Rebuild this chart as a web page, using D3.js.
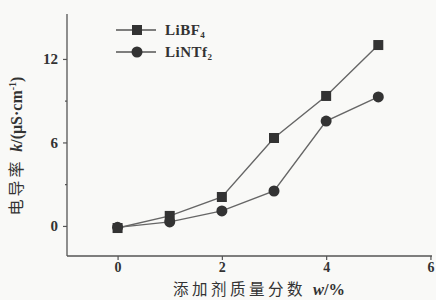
<!DOCTYPE html>
<html><head><meta charset="utf-8">
<script src="https://cdn.jsdelivr.net/npm/d3@7"></script>
<style>
html,body{margin:0;padding:0;background:#f9f9f7;}
svg{display:block;}
</style></head>
<body>
<svg id="chart" width="436" height="300"></svg>
<script>
const xValues = [0, 1, 2, 3, 4, 5];
const seriesNames = ["LiBF₄", "LiNTf₂"];
const libf4 = [-0.15, 0.72, 2.08, 6.32, 9.34, 13.0];
const lintf2 = [-0.1, 0.29, 1.08, 2.51, 7.54, 9.27];
const xTicks = [0, 2, 4, 6];
const yTicks = [0, 6, 12];
const yMinorTicks = [3, 9];

(function () {
const svg = d3.select("#chart");
const mLeft = 67, mRight = 432, mTop = 14, mBottom = 256;
const x = d3.scaleLinear().domain([-0.97, 6.03]).range([mLeft, mRight]);
const y = d3.scaleLinear().domain([-2.16, 15.23]).range([mBottom, mTop]);

const axisColor = "#555";
const serif = "'Liberation Serif','Times New Roman',serif";
const cjk = "'Noto Sans CJK SC','Noto Sans CJK JP',sans-serif";

const gx = svg.append("g").attr("transform", `translate(0,${mBottom})`)
  .call(d3.axisBottom(x).tickValues(xTicks).tickFormat(d3.format("d")).tickSize(4).tickSizeOuter(0).tickPadding(2));
const gy = svg.append("g").attr("transform", `translate(${mLeft},0)`)
  .call(d3.axisLeft(y).tickValues(yTicks).tickFormat(d3.format("d")).tickSize(4).tickSizeOuter(0).tickPadding(5));
svg.append("g").attr("transform", `translate(${mLeft},0)`)
  .call(d3.axisLeft(y).tickValues(yMinorTicks).tickSize(2).tickFormat(""))
  .call(g => g.select(".domain").remove());

svg.selectAll(".domain").attr("stroke", axisColor).attr("stroke-width", 1.3);
svg.selectAll(".tick line").attr("stroke", axisColor).attr("stroke-width", 1.2);
svg.selectAll(".tick text").attr("fill", "#333").attr("font-family", serif)
  .attr("font-weight", "bold").attr("font-size", 15);
gx.selectAll(".tick text").attr("font-size", 14);
gx.select(".domain").attr("d", `M${mLeft},0H${mRight}`);
gy.select(".domain").attr("d", `M0,${mBottom}V${mTop}`);

const line = d3.line().x((d, i) => x(xValues[i])).y(d => y(d));
[libf4, lintf2].forEach(s => {
  svg.append("path").datum(s).attr("d", line).attr("fill", "none")
    .attr("stroke", "#666").attr("stroke-width", 1.4);
});
const ms = 10;
svg.selectAll("rect.m").data(libf4).join("rect").attr("class", "m")
  .attr("x", (d, i) => x(xValues[i]) - ms / 2).attr("y", d => y(d) - ms / 2)
  .attr("width", ms).attr("height", ms).attr("fill", "#333");
svg.selectAll("circle.m").data(lintf2).join("circle").attr("class", "m")
  .attr("cx", (d, i) => x(xValues[i])).attr("cy", d => y(d)).attr("r", 5.5).attr("fill", "#333");

const lg = svg.append("g");
[0, 1].forEach(i => {
  const ly = 30 + i * 22;
  lg.append("line").attr("x1", 116).attr("x2", 156).attr("y1", ly).attr("y2", ly)
    .attr("stroke", "#555").attr("stroke-width", 1.5);
  if (i === 0) lg.append("rect").attr("x", 137 - 5).attr("y", ly - 5).attr("width", 10).attr("height", 10).attr("fill", "#333");
  else lg.append("circle").attr("cx", 137).attr("cy", ly).attr("r", 5.5).attr("fill", "#333");
  lg.append("text").attr("x", 165).attr("y", ly + 5).text(seriesNames[i])
    .attr("font-family", serif).attr("font-weight", "bold").attr("font-size", 15)
    .attr("letter-spacing", 0.5).attr("fill", "#333");
});

const xt = svg.append("text").attr("x", 259).attr("y", 295).attr("text-anchor", "middle")
  .attr("fill", "#333").attr("font-size", 15.5);
xt.append("tspan").attr("font-family", cjk).attr("letter-spacing", 3.5).text("添加剂质量分数 ");
xt.append("tspan").attr("font-family", serif).attr("font-style", "italic").attr("font-weight", "bold").attr("font-size", 16.5).text("w");
xt.append("tspan").attr("font-family", serif).attr("font-weight", "bold").attr("font-size", 16.5).text("/%");

const yt = svg.append("text").attr("transform", "translate(22,146) rotate(-90)")
  .attr("text-anchor", "middle").attr("fill", "#333").attr("font-size", 16);
yt.append("tspan").attr("font-family", cjk).attr("letter-spacing", 3).text("电导率 ");
yt.append("tspan").attr("font-family", serif).attr("font-style", "italic").attr("font-weight", "bold").text("k");
yt.append("tspan").attr("font-family", serif).attr("font-weight", "bold").text("/(μS·cm");
yt.append("tspan").attr("font-family", serif).attr("font-weight", "bold").attr("font-size", 10).attr("dy", -6).text("-1");
yt.append("tspan").attr("font-family", serif).attr("font-weight", "bold").attr("dy", 6).text(")");
})();
</script>
</body></html>
